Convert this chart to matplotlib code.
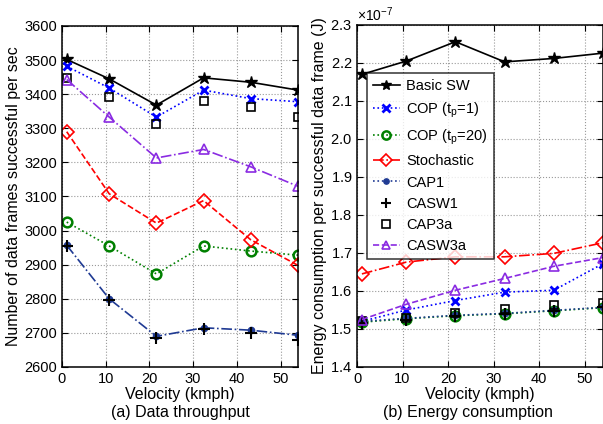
import numpy as np
import matplotlib
matplotlib.use('Agg')
import matplotlib.pyplot as plt

plt.rcParams['font.family'] = ['Liberation Sans', 'DejaVu Sans']
plt.rcParams['mathtext.fontset'] = 'custom'
plt.rcParams['mathtext.rm'] = 'Liberation Sans'

velocity = [1.08, 10.8, 21.6, 32.4, 43.2, 54]

# (a) throughput, frames/sec
thr_basic = [3502, 3445, 3368, 3448, 3435, 3412]
thr_cop1 = [3482, 3418, 3333, 3412, 3387, 3378]
thr_cop20 = [3025, 2955, 2873, 2955, 2940, 2928]
thr_stoch = [3290, 3108, 3022, 3088, 2973, 2898]
thr_cap1 = [2957, 2800, 2690, 2715, 2708, 2693]
thr_casw1 = [2955, 2797, 2685, 2710, 2700, 2680]
thr_cap3a = [3448, 3393, 3313, 3380, 3362, 3332]
thr_casw3a = [3443, 3333, 3213, 3238, 3187, 3130]

# (b) energy per frame, x1e-7 J
en_basic = [2.170, 2.205, 2.256, 2.203, 2.212, 2.226]
en_cop1 = [1.520, 1.550, 1.575, 1.597, 1.602, 1.672]
en_cop20 = [1.518, 1.527, 1.535, 1.540, 1.548, 1.556]
en_stoch = [1.645, 1.676, 1.690, 1.690, 1.699, 1.727]
en_cap1 = [1.520, 1.528, 1.536, 1.541, 1.549, 1.557]
en_casw1 = [1.515, 1.525, 1.535, 1.540, 1.548, 1.558]
en_cap3a = [1.520, 1.530, 1.541, 1.552, 1.562, 1.568]
en_casw3a = [1.525, 1.565, 1.602, 1.633, 1.665, 1.688]

labels = ['Basic SW', 'COP (t$_\\mathregular{p}$=1)', 'COP (t$_\\mathregular{p}$=20)', 'Stochastic',
          'CAP1', 'CASW1', 'CAP3a', 'CASW3a']

fig = plt.figure(figsize=(6.03, 4.24), dpi=100)
ax1 = fig.add_axes([62/603, 1 - 367/424, 236/603, 341/424])
ax2 = fig.add_axes([357/603, 1 - 367/424, 246/603, 342/424])

navy = '#1f3a93'
purple = '#8a2be2'
ms = 7

def draw(ax, d, lsc1, lsst, lscasw3):
    ax.plot(velocity, d[0], ls='-', color='k', marker='*', ms=9, lw=1.2, label=labels[0])
    ax.plot(velocity, d[1], ls=':', color='b', marker='x', ms=6, mew=2, lw=1.2, label=labels[1])
    ax.plot(velocity, d[2], ls=':', color='g', marker='o', ms=ms, mfc='none', mew=1.8, lw=1.2, label=labels[2])
    ax.plot(velocity, d[3], ls=lsst, color='r', marker='D', ms=ms, mfc='none', mew=1.2, lw=1.2, label=labels[3])
    ax.plot(velocity, d[4], ls=lsc1, color=navy, marker='o', ms=4.5, lw=1.2, label=labels[4])
    ax.plot(velocity, d[5], ls='none', color='k', marker='+', ms=9, mew=1.5, label=labels[5])
    ax.plot(velocity, d[6], ls='none', color='k', marker='s', ms=6, mfc='none', mew=1.2, label=labels[6])
    ax.plot(velocity, d[7], ls=lscasw3, color=purple, marker='^', ms=ms, mfc='none', mew=1.2, lw=1.2, label=labels[7])

draw(ax1, [thr_basic, thr_cop1, thr_cop20, thr_stoch, thr_cap1, thr_casw1, thr_cap3a, thr_casw3a],
     '-.', '--', '-.')
en = [np.array(v) * 1e-7 for v in [en_basic, en_cop1, en_cop20, en_stoch, en_cap1, en_casw1, en_cap3a, en_casw3a]]
draw(ax2, en, ':', '-.', '--')

for ax in (ax1, ax2):
    ax.set_xlim(0, 54)
    ax.set_xticks([0, 10, 20, 30, 40, 50])
    ax.grid(True, ls=':', color='#999999', lw=0.8)
    ax.tick_params(direction='in', labelsize=10.5, top=True, right=True, length=4)
    ax.set_xlabel('Velocity (kmph)', fontsize=11.5, labelpad=1)
    for s in ax.spines.values():
        s.set_linewidth(1.1)

ax1.set_ylim(2600, 3600)
ax1.set_yticks(np.arange(2600, 3601, 100))
ax1.set_ylabel('Number of data frames successful per sec', fontsize=11.5, labelpad=2)

ax2.set_ylim(1.4e-7, 2.3e-7)
ax2.set_yticks(np.arange(1.4, 2.31, 0.1) * 1e-7)
ax2.ticklabel_format(axis='y', style='sci', scilimits=(0, 0), useMathText=True)
ax2.yaxis.get_offset_text().set_fontsize(10)
ax2.set_ylabel('Energy consumption per successful data frame (J)', fontsize=11.5, labelpad=2)

leg = ax2.legend(loc='upper left', bbox_to_anchor=(0.01, 0.88), fontsize=10.5, frameon=True,
                 fancybox=False, edgecolor='k', handlelength=1.9, handletextpad=0.4,
                 labelspacing=0.5, borderpad=0.4, markerscale=0.85)
leg.get_frame().set_linewidth(1.1)

fig.text(180/603, 1 - 412/424, '(a) Data throughput', ha='center', va='center', fontsize=11.5)
fig.text(468/603, 1 - 412/424, '(b) Energy consumption', ha='center', va='center', fontsize=11.5)

fig.savefig('out.png', dpi=100)
